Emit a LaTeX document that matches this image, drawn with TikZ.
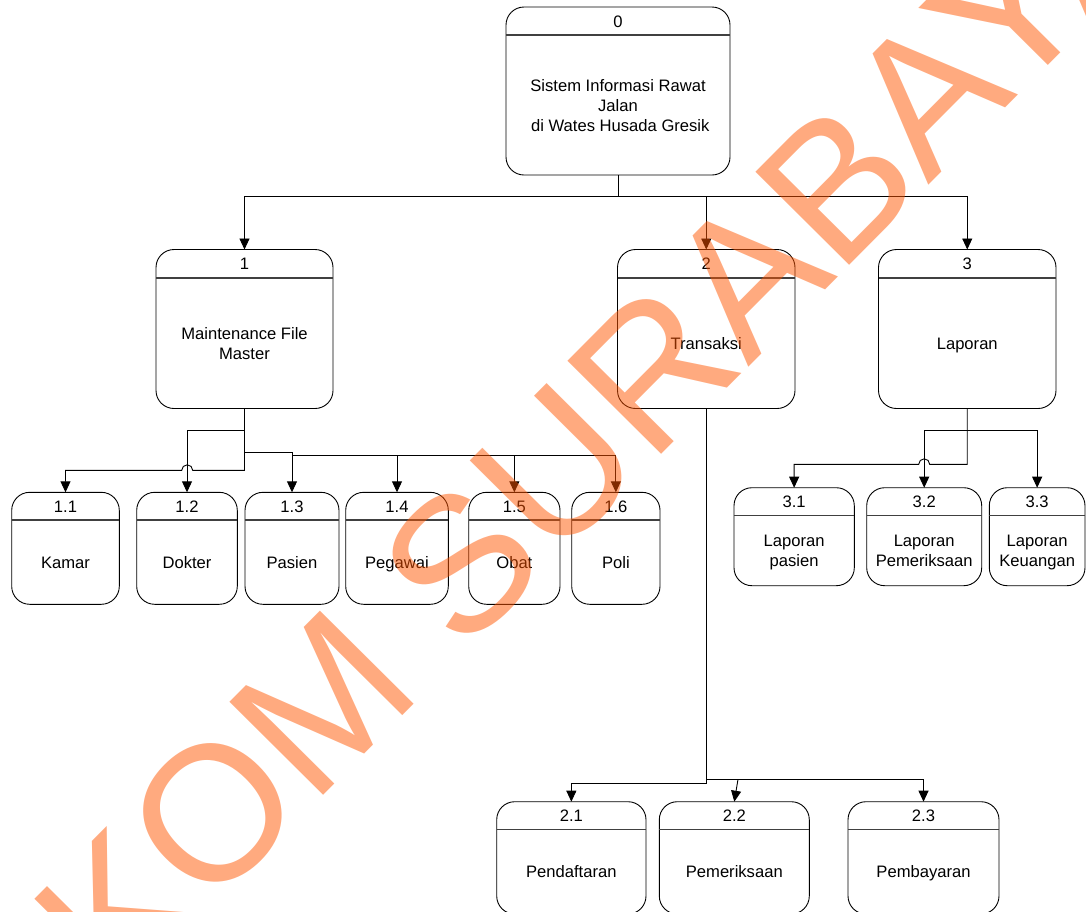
\documentclass[tikz,border=0pt]{standalone}
\usepackage{fontspec}
\setmainfont{Liberation Sans}
\usetikzlibrary{arrows.meta,calc}
\definecolor{wmorange}{RGB}{255,85,0}
\newcommand\tstrut{\rule[-4pt]{0pt}{20pt}}
\tikzset{
  pbox/.style={draw=black, line width=0.9pt, rounded corners=18pt, rectangle, inner sep=0pt, outer sep=0pt},
  divline/.style={draw=black!75, line width=1.3pt},
  txt/.style={inner sep=0pt, align=center, font=\fontsize{16.6}{20}\selectfont},
  conn/.style={draw=black, line width=0.9pt},
  arr/.style={conn, -{Triangle[width=10pt,length=11pt]}},
  wmark/.style={text=wmorange, text opacity=0.5, inner sep=0pt, font=\fontsize{192}{200}\selectfont}
}
\newcommand\pbox[8]{%
  \pgfmathsetmacro\bx{(#2+#4)/2}%
  \pgfmathsetmacro\by{(#3+#5)/2}%
  \pgfmathsetmacro\bw{#4-#2}%
  \pgfmathsetmacro\bh{#5-#3}%
  \pgfmathsetmacro\ny{(#3+#6)/2}%
  \pgfmathsetmacro\ty{(#6+#5)/2}%
  \node[pbox, minimum width=\bw pt, minimum height=\bh pt] (#1) at (\bx,\by) {};
  \draw[divline] (#2,#6) -- (#4,#6);
  \node[txt] (#1-num) at (\bx,\ny) {\tstrut#7\tstrut};
  \node[txt] (#1-body) at (\bx,\ty) {\tstrut#8\tstrut};
}
\begin{document}
\begin{tikzpicture}[x=1pt,y=-1pt]
\useasboundingbox (0,0) rectangle (1086,911);
% level 0
\pbox{n0}{506}{7}{730}{175}{35}{0}{Sistem Informasi Rawat\\Jalan\\\hspace*{4.6pt}di Wates Husada Gresik}
% level 1
\pbox{n1}{156}{249.5}{333}{408.5}{278}{1}{Maintenance File\\Master}
\pbox{n2}{617.5}{249.5}{795}{408.5}{278}{2}{Transaksi}
\pbox{n3}{878.5}{249.5}{1056}{408.5}{278}{3}{Laporan}
% level 1.x
\pbox{n11}{11.7}{492.3}{119.3}{604.3}{520}{1.1}{Kamar}
\pbox{n12}{136.7}{492.3}{237.3}{604.3}{520}{1.2}{Dokter}
\pbox{n13}{245}{492.3}{339}{604.3}{520}{1.3}{Pasien}
\pbox{n14}{345.7}{492.3}{448.3}{604.3}{520}{1.4}{Pegawai}
\pbox{n15}{468.7}{492.3}{560}{604.3}{520}{1.5}{Obat}
\pbox{n16}{571.7}{492.3}{660}{604.3}{520}{1.6}{Poli}
% level 3.x
\pbox{n31}{734}{487.7}{854.3}{585.7}{515.7}{3.1}{Laporan\\pasien}
\pbox{n32}{866.7}{487.7}{981.7}{585.7}{515.7}{3.2}{Laporan\\Pemeriksaan}
\pbox{n33}{989.3}{487.7}{1085}{585.7}{515.7}{3.3}{Laporan\\Keuangan}
% level 2.x
\pbox{n21}{496.7}{801.7}{646}{914}{829.3}{2.1}{Pendaftaran}
\pbox{n22}{659.3}{801.7}{809.3}{914}{829.3}{2.2}{Pemeriksaan}
\pbox{n23}{848}{801.7}{999}{914}{829.3}{2.3}{Pembayaran}

% connectors from 0
\coordinate (b0) at (618,196.7);
\draw[conn] (n0.south) -- (b0);
\draw[arr] (b0) -| (n1.north);
\draw[arr] (b0) -| (n2.north);
\draw[arr] (b0) -| (n3.north);

% connectors from 1
\coordinate (j1a) at (244.5,430.7);
\coordinate (j1b) at (244.5,452.3);
\coordinate (j1c) at (244.5,470.3);
\coordinate (j1d) at (292,455);
\draw[arr] (n1.south) -- (j1c) -- (192.7,470.3) arc[start angle=0,end angle=180,radius=5.5pt] -| (n11.north);
\draw[arr] (j1a) -| (n12.north);
\draw[arr] (j1b) -| (n13.north);
\draw[conn] (n13.north |- j1b) -- (j1d);
\draw[arr] (j1d) -| (n14.north);
\draw[arr] (j1d) -| (n15.north);
\draw[arr] (j1d) -| (n16.north);

% connectors from 3
\coordinate (j3a) at (967.25,430.7);
\coordinate (j3b) at (967.25,464.3);
\draw[arr] (n3.south) -- (j3b) -- (929.7,464.3) arc[start angle=0,end angle=180,radius=5.5pt] -| (n31.north);
\draw[arr] (j3a) -| (n32.north);
\draw[arr] (j3a) -| (n33.north);

% connectors from 2
\coordinate (j2a) at (706.25,779.3);
\coordinate (j2b) at (706.25,783.3);
\coordinate (c22) at (738,779.3);
\draw[arr] (n2.south) -- (j2b) -| (n21.north);
\draw[arr] (j2a) -| (n23.north);
\draw[arr] (c22) -- (n22.north);

% watermark
\node[wmark, rotate=45.2] (wm) at (496.3,527.7) {STIKOM SURABAYA};
\end{tikzpicture}
\end{document}
